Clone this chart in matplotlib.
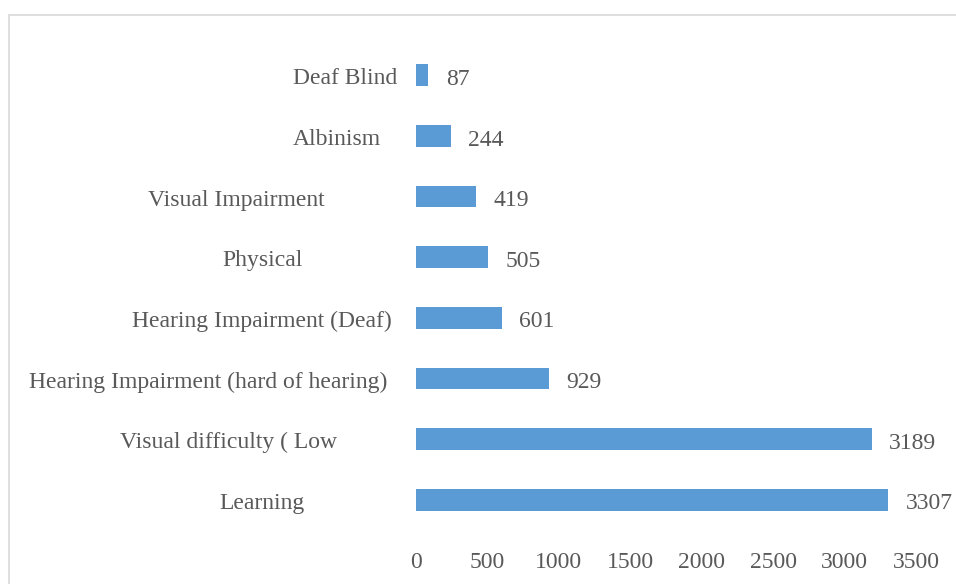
import matplotlib.pyplot as plt
from matplotlib.patches import Rectangle
from matplotlib.transforms import blended_transform_factory

categories = [
    "Learning",
    "Visual difficulty ( Low",
    "Hearing Impairment (hard of hearing)",
    "Hearing Impairment (Deaf)",
    "Physical",
    "Visual Impairment",
    "Albinism",
    "Deaf Blind",
]
counts = [3307, 3189, 929, 601, 505, 419, 244, 87]
x_ticks = [0, 500, 1000, 1500, 2000, 2500, 3000, 3500]

# label centres in figure pixels (labels in the source are unevenly placed)
label_centres_px = [262, 228, 208, 262, 263, 236, 337, 345]

W, H = 956, 584
TEXT = "#595959"
BAR = "#5B9BD5"
FS = 17

plt.rcParams["font.family"] = ["Liberation Serif", "DejaVu Serif"]

fig = plt.figure(figsize=(W / 100, H / 100), dpi=100)
# plot area: x=0 at 416 px, 3500 at 916 px; rows from y=45 to y=530 px
ax = fig.add_axes([416 / W, 1 - 530 / H, 500 / W, 485 / H])

ypos = list(range(len(categories)))
ax.barh(ypos, counts, height=0.36, color=BAR)
ax.set_xlim(0, 3500)
ax.set_ylim(-0.5, len(categories) - 0.5)

for y, v in zip(ypos, counts):
    ax.annotate(f"{v}", (v, y), xytext=(12.5, -3), textcoords="offset points",
                ha="left", va="center", fontsize=FS, color=TEXT)

ax.set_yticks([])
ax.set_xticks(x_ticks)
ax.set_xticklabels([str(t) for t in x_ticks], fontsize=FS, color=TEXT)
ax.tick_params(axis="x", length=0, pad=16)
for s in ax.spines.values():
    s.set_visible(False)

label_tf = blended_transform_factory(fig.transFigure, ax.transData)
for y, name, cx in zip(ypos, categories, label_centres_px):
    ax.annotate(name, (cx / W, y), xycoords=label_tf, xytext=(0, -2.5),
                textcoords="offset points", ha="center", va="center",
                fontsize=FS, color=TEXT)

# chart frame (cut off at right and bottom in the source)
fig.patches.append(Rectangle((9 / W, -0.05), 1.1, 1 - 15 / H + 0.05,
                             transform=fig.transFigure, fill=False,
                             edgecolor="#d9d9d9", linewidth=1.2))

fig.savefig("out.png", dpi=100)
